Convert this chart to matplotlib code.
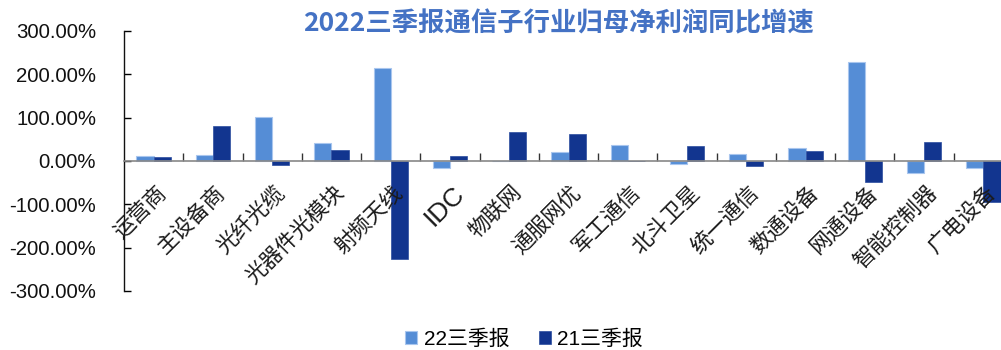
import numpy as np
import matplotlib
matplotlib.use("Agg")
import matplotlib.pyplot as plt
from matplotlib.ticker import FuncFormatter, FixedLocator, NullFormatter
from matplotlib.transforms import offset_copy

plt.rcParams['font.family'] = ['Liberation Sans', 'Noto Sans CJK SC', 'DejaVu Sans']

categories = ["运营商", "主设备商", "光纤光缆", "光器件光模块", "射频天线", "IDC", "物联网",
              "通服网优", "军工通信", "北斗卫星", "统一通信", "数通设备", "网通设备",
              "智能控制器", "广电设备"]
q3_2022 = [12, 14, 102, 42, 214, -15, 0, 21, 36, -7, 16, 29, 229, -28, -15]
q3_2021 = [10, 81, -9, 25, -227, 11, 66, 62, -1, 34, -12, 24, -48, 44, -95]
series_names = ["22三季报", "21三季报"]
title = "2022三季报通信子行业归母净利润同比增速"

light = "#558DD6"
dark = "#12358F"

fig = plt.figure(figsize=(10.01, 3.5), dpi=100)
ax = fig.add_axes([124 / 1001, 1 - 291 / 350, 889 / 1001, 260 / 350])

x = np.arange(len(categories))
w = 0.29
ax.bar(x - w / 2, q3_2022, width=w, color=light, edgecolor="#A9C6EE", linewidth=0.8,
       label=series_names[0], zorder=2)
ax.bar(x + w / 2, q3_2021, width=w, color=dark, edgecolor="#2A4C9F", linewidth=0.5,
       label=series_names[1], zorder=2)

ax.set_xlim(-0.5, len(categories) - 0.5)
ax.set_ylim(-300, 300)
ax.set_yticks(np.arange(-300, 301, 100))
ax.yaxis.set_major_formatter(FuncFormatter(lambda v, p: f"{v:.2f}%"))
ax.tick_params(axis='y', direction='in', length=5, width=1, labelsize=14.7, pad=20,
               labelcolor="#111111")

# boundary ticks on the zero line
ax.xaxis.set_major_locator(FixedLocator(np.arange(0.5, len(categories) - 0.5, 1)))
ax.xaxis.set_major_formatter(NullFormatter())
ax.tick_params(axis='x', which='major', direction='in', length=6, width=1, color="#333333")

# category names, rotated, hanging below the zero line
trans = offset_copy(ax.transData, fig=fig, x=2, y=-21, units='dots')
for xi, name in zip(x, categories):
    ax.text(xi, 0, name, transform=trans, rotation=45, ha='right', va='top',
            rotation_mode='anchor', fontsize=19 if name == "IDC" else 15.5,
            color="#1a1a1a", clip_on=False)

for s in ['top', 'right']:
    ax.spines[s].set_visible(False)
ax.spines['bottom'].set_position(('data', 0))
ax.spines['bottom'].set_color("#888888")
ax.spines['bottom'].set_linewidth(1.2)
ax.spines['bottom'].set_zorder(3)
ax.spines['left'].set_color("#111111")
ax.spines['left'].set_linewidth(1)

fig.text(558 / 1001, 1 - 24 / 350, title, ha='center', va='center', fontsize=19,
         fontweight='bold', color="#4472C4", family=['Noto Sans CJK SC'])

fig.legend(loc='center', bbox_to_anchor=(524 / 1001, 1 - 339 / 350), ncol=2, frameon=False,
           fontsize=15, handlelength=0.6, handleheight=0.6, handletextpad=0.3,
           columnspacing=1.4)

fig.savefig("out.png", dpi=100)
